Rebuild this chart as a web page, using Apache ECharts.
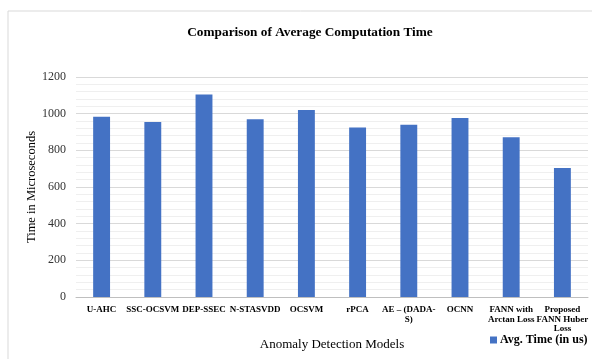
<!DOCTYPE html>
<html>
<head>
<meta charset="utf-8">
<script src="https://cdn.jsdelivr.net/npm/echarts@6/dist/echarts.min.js"></script>
<style>html,body{margin:0;padding:0;background:#fff;}#c{width:592px;height:359px;}</style>
</head>
<body>
<div id="c"></div>
<script>
const categories = ["U-AHC", "SSC-OCSVM", "DEP-SSEC", "N-STASVDD", "OCSVM", "rPCA", "AE – (DADA-\nS)", "OCNN", "FANN with\nArctan Loss", "Proposed\nFANN Huber\nLoss"];
const avgTime = [983, 954, 1105, 969, 1020, 925, 940, 976, 871, 704];
const seriesName = "Avg. Time (in us)";
const yTicks = [0, 200, 400, 600, 800, 1000, 1200];

const chart = echarts.init(document.getElementById('c'));
const serif = '"Liberation Serif", "Times New Roman", serif';
chart.setOption({
  animation: false,
  graphic: [{
    type: 'rect', shape: {x: 8, y: 11, width: 600, height: 360},
    style: {fill: 'none', stroke: '#d9d9d9', lineWidth: 1}, silent: true
  }],
  title: {
    text: 'Comparison of Average Computation Time',
    left: 305, top: 21, textAlign: 'center',
    textStyle: {fontFamily: serif, fontSize: 13.3, fontWeight: 'bold', color: '#000'}
  },
  legend: {
    data: [seriesName], left: 485, top: 329,
    itemWidth: 7, itemHeight: 7, itemGap: 4, icon: 'rect',
    textStyle: {fontFamily: serif, fontSize: 12, fontWeight: 'bold', color: '#000', padding: [0,0,0,-2]}
  },
  grid: {left: 76, right: 4, top: 77, bottom: 62, containLabel: false, outerBoundsMode: 'none'},
  xAxis: {
    type: 'category', data: categories,
    name: 'Anomaly Detection Models', nameLocation: 'middle', nameGap: 40,
    nameTextStyle: {fontFamily: serif, fontSize: 13, color: '#000'},
    axisLine: {lineStyle: {color: '#bfbfbf'}},
    axisTick: {show: false},
    axisLabel: {interval: 0, fontFamily: serif, fontSize: 9, fontWeight: 'bold', color: '#000', margin: 8, lineHeight: 9.5},
  },
  yAxis: {
    type: 'value', min: yTicks[0], max: yTicks[yTicks.length-1], interval: 200,
    name: 'Time in Microseconds', nameLocation: 'middle', nameGap: 38, nameRotate: 90,
    nameMoveOverlap: false,
    nameTextStyle: {fontFamily: serif, fontSize: 12.5, color: '#000'},
    axisLine: {show: false}, axisTick: {show: false},
    axisLabel: {fontFamily: serif, fontSize: 12, color: '#333', margin: 10, formatter: v => String(v)},
    splitLine: {lineStyle: {color: '#d9d9d9'}},
    minorTick: {show: false, splitNumber: 5},
    minorSplitLine: {show: true, lineStyle: {color: '#efefef'}}
  },
  series: [{
    name: seriesName, type: 'bar', data: avgTime, barWidth: '33%',
    itemStyle: {color: '#4472c4'}
  }]
});
</script>
</body>
</html>
